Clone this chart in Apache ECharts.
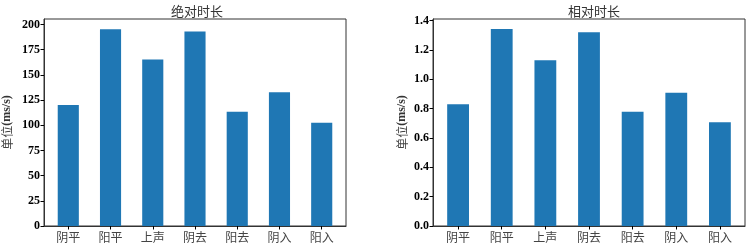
<!DOCTYPE html>
<html>
<head>
<meta charset="utf-8">
<script src="https://cdn.jsdelivr.net/npm/echarts@6/dist/echarts.min.js"></script>
<style>
  html, body { margin: 0; padding: 0; background: #fff; }
  #chart { width: 748px; height: 246px; }
</style>
</head>
<body>
<div id="chart"></div>
<script>
// 声调类别
const categories = ["阴平", "阳平", "上声", "阴去", "阳去", "阴入", "阳入"];
// 绝对时长 (ms/s)
const absoluteValues = [120.2, 195.4, 165.2, 193.0, 113.3, 132.8, 102.6];
// 相对时长
const relativeValues = [0.830, 1.342, 1.130, 1.321, 0.778, 0.909, 0.707];
// 刻度
const absTicks = [0, 25, 50, 75, 100, 125, 150, 175, 200];
const relTicks = [0.0, 0.2, 0.4, 0.6, 0.8, 1.0, 1.2, 1.4];

const chart = echarts.init(document.getElementById("chart"));

const serif = "'Liberation Serif', 'DejaVu Serif', serif";
const cjk = "'Noto Sans CJK SC', sans-serif";
const catIdx = categories.map((_, i) => i);

function xAxisFor(gridIndex) {
    return {
        type: "value",
        gridIndex: gridIndex,
        min: -0.575,
        max: 6.575,
        splitLine: { show: false },
        axisLine: { show: true, onZero: false, lineStyle: { color: "#333", width: 1 } },
        axisTick: { show: true, customValues: catIdx, length: 3.5, lineStyle: { color: "#000" } },
        axisLabel: {
            customValues: catIdx,
            formatter: v => categories[Math.round(v)],
            fontFamily: cjk, fontSize: 12, color: "#444", margin: 5
        }
    };
}

function yAxisFor(gridIndex, max, ticks, digits, gap) {
    return {
        type: "value",
        gridIndex: gridIndex,
        min: 0,
        max: max,
        name: "{a|单位}{b|(ms/s)}",
        nameLocation: "middle",
        nameGap: gap,
        nameTextStyle: {
            rich: {
                a: { fontFamily: cjk, fontSize: 12, color: "#444" },
                b: { fontFamily: serif, fontSize: 12, fontWeight: "bold", color: "#333" }
            }
        },
        splitLine: { show: false },
        axisLine: { show: true, onZero: false, lineStyle: { color: "#333", width: 1 } },
        axisTick: { show: true, customValues: ticks, length: 3.5, lineStyle: { color: "#000" } },
        axisLabel: {
            customValues: ticks,
            formatter: v => v.toFixed(digits),
            fontFamily: serif, fontSize: 12, fontWeight: "bold", color: "#000", margin: 4
        }
    };
}

const option = {
    animation: false,
    title: [
        { text: "绝对时长", left: 192, top: 0, textAlign: "center",
          textStyle: { fontFamily: cjk, fontSize: 13, fontWeight: "normal", color: "#333" } },
        { text: "相对时长", left: 589, top: 0, textAlign: "center",
          textStyle: { fontFamily: cjk, fontSize: 13, fontWeight: "normal", color: "#333" } }
    ],
    grid: [
        { left: 38, top: 19, width: 308, height: 207, show: true, borderColor: "#333", borderWidth: 1, backgroundColor: "transparent" },
        { left: 433, top: 19, width: 312, height: 207, show: true, borderColor: "#333", borderWidth: 1, backgroundColor: "transparent" }
    ],
    xAxis: [xAxisFor(0), xAxisFor(1)],
    yAxis: [
        yAxisFor(0, 205.5, absTicks, 0, 31),
        yAxisFor(1, 1.411, relTicks, 1, 25)
    ],
    series: [
        {
            type: "bar", xAxisIndex: 0, yAxisIndex: 0,
            barWidth: "50%",
            data: absoluteValues.map((v, i) => [i, v]),
            itemStyle: { color: "#1f77b4" }
        },
        {
            type: "bar", xAxisIndex: 1, yAxisIndex: 1,
            barWidth: "50%",
            data: relativeValues.map((v, i) => [i, v]),
            itemStyle: { color: "#1f77b4" }
        }
    ]
};

chart.setOption(option);
</script>
</body>
</html>
